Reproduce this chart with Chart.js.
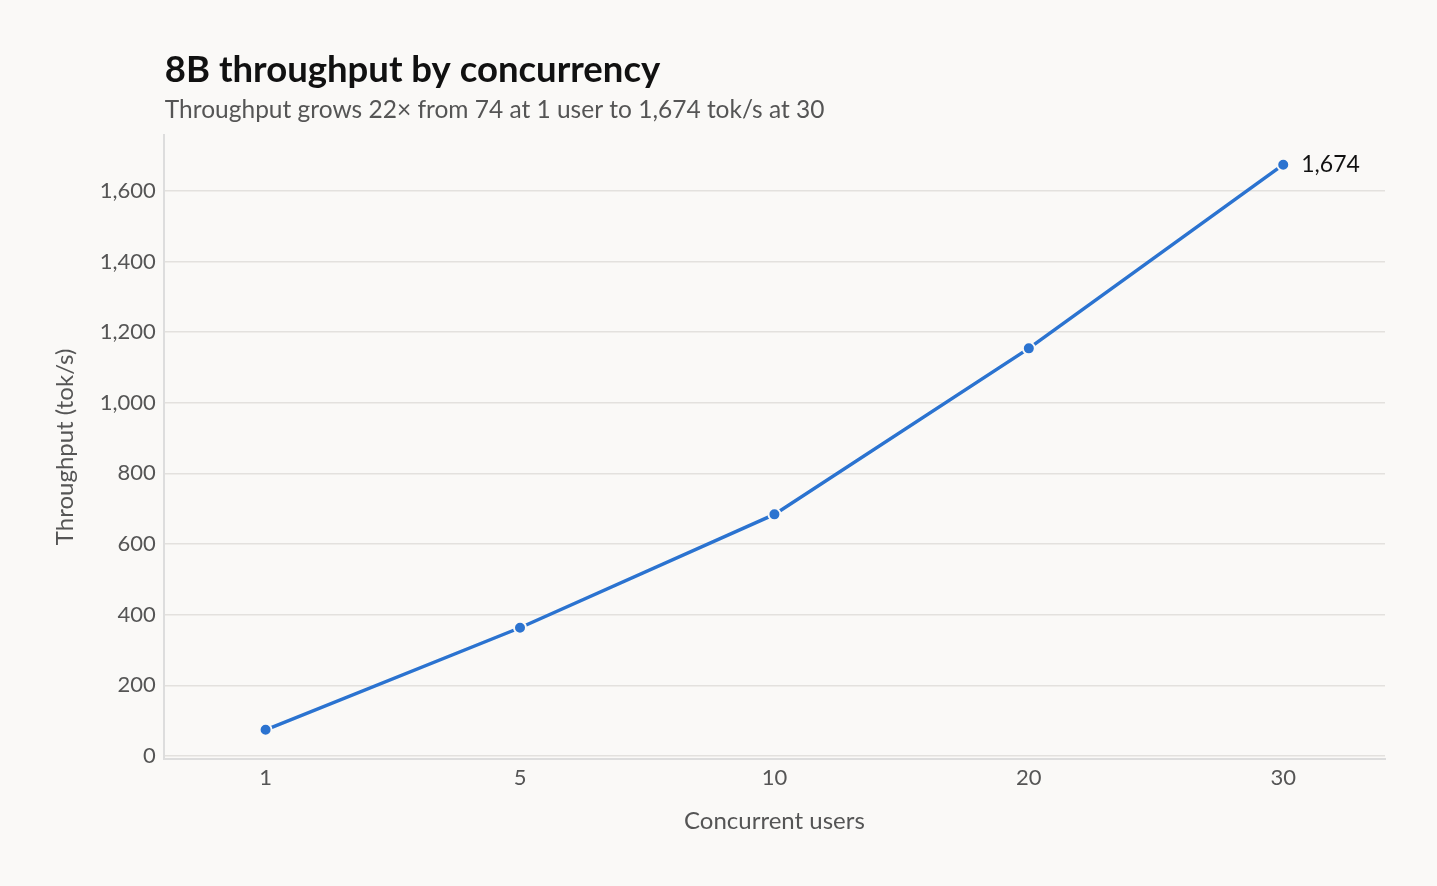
<!DOCTYPE html>
<html>
<head>
<meta charset="utf-8">
<script src="https://cdn.jsdelivr.net/npm/chart.js@4"></script>
<style>
  html, body { margin: 0; padding: 0; background: #faf9f7; }
  #wrap { width: 1437px; height: 886px; position: relative; }
</style>
</head>
<body>
<div id="wrap"><canvas id="c"></canvas></div>
<script>
// data
const users = ['1', '5', '10', '20', '30'];
const throughput = [74, 363, 684, 1154, 1674];
const yTicks = [0, 200, 400, 600, 800, 1000, 1200, 1400, 1600];

const TITLE = '8B throughput by concurrency';
const SUBTITLE = 'Throughput grows 22\u00d7 from 74 at 1 user to 1,674 tok/s at 30';
const FONT = 'Lato, "Noto Sans", sans-serif';
const BLUE = '#2b73d0';

// title + subtitle drawn at the plot's left edge
const headerPlugin = {
  id: 'header',
  afterDraw(chart) {
    const { ctx, chartArea } = chart;
    ctx.save();
    ctx.textBaseline = 'alphabetic';
    ctx.fillStyle = '#111';
    ctx.font = 'bold 36.5px ' + FONT;
    ctx.fillText(TITLE, chartArea.left + 1, 82);
    ctx.fillStyle = '#555';
    ctx.font = '24.5px ' + FONT;
    ctx.fillText(SUBTITLE, chartArea.left + 1, 118);
    ctx.restore();
  }
};

// label on the last point
const endLabel = {
  id: 'endLabel',
  afterDatasetsDraw(chart) {
    const meta = chart.getDatasetMeta(0);
    const last = meta.data[meta.data.length - 1];
    const v = throughput[throughput.length - 1];
    const { ctx } = chart;
    ctx.save();
    ctx.fillStyle = '#111';
    ctx.font = '23px ' + FONT;
    ctx.textBaseline = 'middle';
    ctx.fillText(v.toLocaleString('en-US'), last.x + 18, last.y);
    ctx.restore();
  }
};

new Chart(document.getElementById('c'), {
  type: 'line',
  data: {
    datasets: [{
      data: throughput.map((v, i) => ({ x: i, y: v })),
      borderColor: BLUE,
      backgroundColor: BLUE,
      borderWidth: 3.5,
      pointRadius: 6,
      pointHoverRadius: 6,
      pointBorderColor: '#faf9f7',
      pointBorderWidth: 2,
      tension: 0
    }]
  },
  options: {
    responsive: true,
    maintainAspectRatio: false,
    animation: false,
    layout: { padding: { top: 135, right: 52, bottom: 46, left: 47 } },
    plugins: {
      legend: { display: false },
      tooltip: { enabled: false }
    },
    scales: {
      x: {
        type: 'linear',
        min: -0.4,
        max: 4.4,
        afterBuildTicks: (axis) => { axis.ticks = users.map((u, i) => ({ value: i })); },
        ticks: {
          callback: (v) => users[v],
          color: '#555',
          font: { family: FONT, size: 22 },
          padding: 6
        },
        grid: { display: false, drawTicks: true, tickLength: 0 },
        border: { display: true, color: '#ddd', width: 2 },
        title: {
          display: true,
          text: 'Concurrent users',
          color: '#555',
          font: { family: FONT, size: 24 },
          padding: { top: 10 }
        }
      },
      y: {
        min: -8,
        max: 1758,
        afterBuildTicks: (axis) => { axis.ticks = yTicks.map(v => ({ value: v })); },
        ticks: {
          callback: (v) => v.toLocaleString('en-US'),
          color: '#555',
          font: { family: FONT, size: 22 },
          padding: 8
        },
        grid: { color: '#e3e1de', lineWidth: 1.5, drawTicks: false },
        border: { display: true, color: '#ddd', width: 2 },
        title: {
          display: true,
          text: 'Throughput (tok/s)',
          color: '#555',
          font: { family: FONT, size: 24 },
          padding: { bottom: 12 }
        }
      }
    }
  },
  plugins: [headerPlugin, endLabel]
});
</script>
</body>
</html>
